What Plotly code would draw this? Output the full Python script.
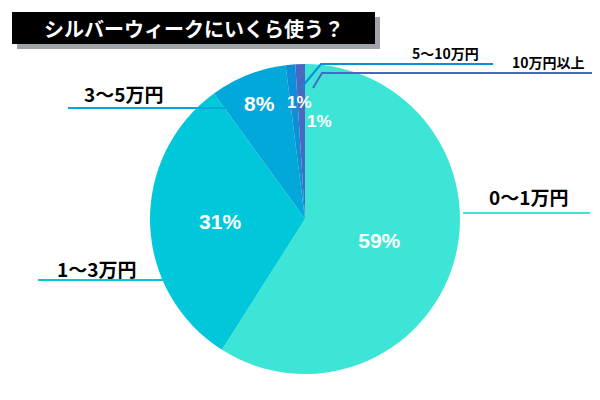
import plotly.graph_objects as go

labels = ["0〜1万円", "1〜3万円", "3〜5万円", "5〜10万円", "10万円以上"]
values = [59, 31, 8, 1, 1]
colors = ["#3de5d6", "#00c7d9", "#02a8da", "#0a8fd8", "#4a68c0"]
pct_text = ["<b>59%</b>", "<b>31%</b>", "<b>8%</b>", "", ""]

W, H = 600, 400
def px(x): return x / W
def py(y): return 1 - y / H

fig = go.Figure(go.Pie(
    labels=labels, values=values, sort=False, direction="clockwise", rotation=0,
    marker=dict(colors=colors, line=dict(width=0)),
    text=pct_text, textinfo="text", textposition="inside", insidetextorientation="horizontal",
    textfont=dict(color="white", size=21, family="Liberation Sans"),
    showlegend=False, hoverinfo="none",
    domain=dict(x=[px(142), px(452)], y=[py(366), py(56)]),
))

shapes = []
def line(pts, color):
    path = "M " + " L ".join(f"{px(x)},{py(y)}" for x, y in pts)
    shapes.append(dict(type="path", path=path, xref="paper", yref="paper",
                       line=dict(color=color, width=2)))
line([(455, 205), (582, 205)], colors[0])
line([(30, 272), (162, 272)], colors[1])
line([(60, 100), (225, 100)], colors[2])
line([(293, 80), (313, 56), (485, 56)], colors[3])
line([(305, 80), (314, 65), (592, 65)], colors[4])
shapes.append(dict(type="rect", xref="paper", yref="paper", x0=px(9), x1=px(372), y0=py(41), y1=py(9),
                   fillcolor="#a0a4aa", line=dict(width=0), layer="below"))
shapes.append(dict(type="rect", xref="paper", yref="paper", x0=px(4), x1=px(367), y0=py(36), y1=py(4),
                   fillcolor="black", line=dict(width=0), layer="below"))

ann = []
def text(x, y, s, size=18, color="black", family="Noto Sans CJK JP"):
    ann.append(dict(x=px(x), y=py(y), xref="paper", yref="paper", text=s, showarrow=False,
                    font=dict(size=size, color=color, family=family), xanchor="center", yanchor="middle"))
text(186, 21, "<b>シルバーウィークにいくら使う？</b>", 20, "white")
text(520, 188, "<b>0〜1万円</b>", 19)
text(88, 260, "<b>1〜3万円</b>", 19)
text(115, 86, "<b>3〜5万円</b>", 19)
text(437, 45, "<b>5〜10万円</b>", 14)
text(540, 54, "<b>10万円以上</b>", 14)
text(291, 94, "<b>1%</b>", 17, "white", "Liberation Sans")
text(311, 114, "<b>1%</b>", 17, "white", "Liberation Sans")

fig.update_layout(width=W, height=H, margin=dict(l=0, r=0, t=0, b=0),
                  paper_bgcolor="white", shapes=shapes, annotations=ann)
fig.write_html("out.html")
